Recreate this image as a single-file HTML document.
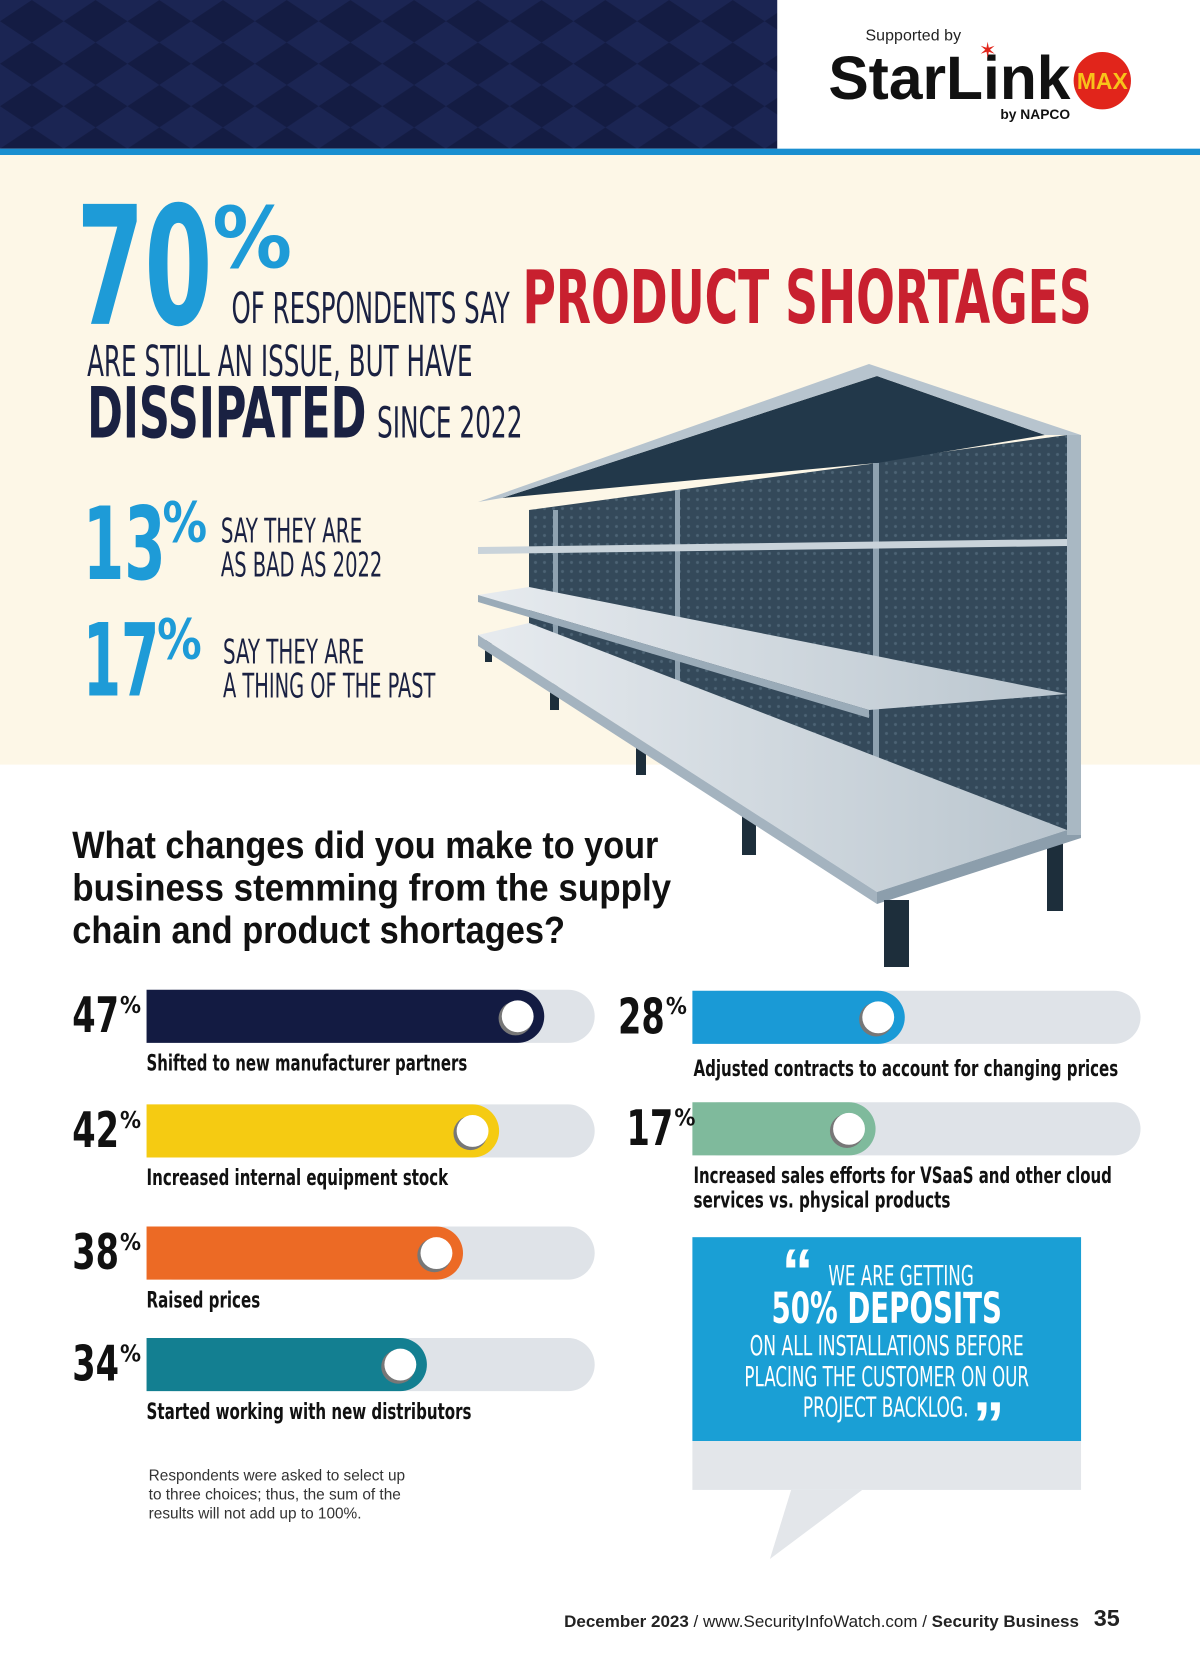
<!DOCTYPE html>
<html><head><meta charset="utf-8"><style>
html,body{margin:0;padding:0;background:#fff;width:1200px;height:1665px;overflow:hidden}
#wrap{position:absolute;left:0;top:0;width:1130px;height:1568px;transform:scale(1.06195);transform-origin:0 0}
svg text{font-family:"Liberation Sans Narrow","DejaVu Sans Condensed","Liberation Sans",sans-serif}
.sans{font-family:"Liberation Sans","DejaVu Sans",sans-serif}
</style></head><body>
<div id="wrap">
<svg id="main" width="1130" height="1568" viewBox="0 0 1130 1568" xmlns="http://www.w3.org/2000/svg">
<defs>
<pattern id="dia" width="60" height="40" patternUnits="userSpaceOnUse">
<rect width="60" height="40" fill="#1b2553"/>
<path d="M0 20 L30 0 L60 20 L30 40 Z" fill="#141c43"/>
</pattern>
<linearGradient id="deck" x1="0" y1="0" x2="1" y2="0"><stop offset="0" stop-color="#e7ebef"/><stop offset="1" stop-color="#b9c5ce"/></linearGradient>
<pattern id="peg" width="9" height="9" patternUnits="userSpaceOnUse"><rect width="9" height="9" fill="#34495a"/><circle cx="4.5" cy="4.5" r="1.5" fill="#4d6475"/></pattern>
</defs>
<rect x="0" y="0" width="732" height="140" fill="url(#dia)"/>
<rect x="732" y="0" width="398" height="140" fill="#fff"/>
<g>
<text x="815" y="38" font-size="15" fill="#222" class="sans" textLength="90">Supported by</text>
<text x="780" y="93" font-size="58" font-weight="bold" fill="#111" class="sans" textLength="228" lengthAdjust="spacingAndGlyphs">StarLink</text>
<circle cx="1038" cy="76" r="27" fill="#e1251b"/>
<text x="1038" y="84" font-size="22" font-weight="bold" fill="#f8c21a" text-anchor="middle" class="sans" textLength="48" lengthAdjust="spacingAndGlyphs">MAX</text>
<text x="930" y="54" font-size="20" fill="#e1251b" text-anchor="middle" class="sans">✶</text>
<text x="942" y="112" font-size="13" font-weight="bold" fill="#111" class="sans">by NAPCO</text>
</g>
<rect x="0" y="140" width="1130" height="6" fill="#1a8fd0"/>
<rect x="0" y="146" width="1130" height="574" fill="#fdf7e7"/>

<g>
<text x="72" y="305" font-size="155" font-weight="bold" fill="#1e9bd7" textLength="128" lengthAdjust="spacingAndGlyphs">70</text>
<text x="200" y="252" font-size="80" font-weight="bold" fill="#1e9bd7" textLength="75" lengthAdjust="spacingAndGlyphs">%</text>
<text x="218" y="304" font-size="40" fill="#1a2142" textLength="262" lengthAdjust="spacingAndGlyphs">OF RESPONDENTS SAY</text>
<text x="492" y="304" font-size="70" font-weight="bold" fill="#c8202f" textLength="536" lengthAdjust="spacingAndGlyphs">PRODUCT SHORTAGES</text>
<text x="82" y="354" font-size="40" fill="#1a2142" textLength="363" lengthAdjust="spacingAndGlyphs">ARE STILL AN ISSUE, BUT HAVE</text>
<text x="82" y="412" font-size="66" font-weight="bold" fill="#1a2142" textLength="263" lengthAdjust="spacingAndGlyphs">DISSIPATED</text>
<text x="355" y="412" font-size="40" fill="#1a2142" textLength="137" lengthAdjust="spacingAndGlyphs">SINCE 2022</text>
</g>
<g>
<text x="78" y="545" font-size="95" font-weight="bold" fill="#1e9bd7" textLength="78" lengthAdjust="spacingAndGlyphs">13</text>
<text x="153" y="510" font-size="52" font-weight="bold" fill="#1e9bd7" textLength="42" lengthAdjust="spacingAndGlyphs">%</text>
<text x="208" y="511" font-size="32" fill="#1a2142" textLength="133" lengthAdjust="spacingAndGlyphs">SAY THEY ARE</text>
<text x="208" y="543" font-size="32" fill="#1a2142" textLength="152" lengthAdjust="spacingAndGlyphs">AS BAD AS 2022</text>
</g>
<g>
<text x="78" y="655" font-size="95" font-weight="bold" fill="#1e9bd7" textLength="72" lengthAdjust="spacingAndGlyphs">17</text>
<text x="148" y="620" font-size="52" font-weight="bold" fill="#1e9bd7" textLength="42" lengthAdjust="spacingAndGlyphs">%</text>
<text x="210" y="625" font-size="32" fill="#1a2142" textLength="133" lengthAdjust="spacingAndGlyphs">SAY THEY ARE</text>
<text x="210" y="657" font-size="32" fill="#1a2142" textLength="200" lengthAdjust="spacingAndGlyphs">A THING OF THE PAST</text>
</g>

<g transform="scale(0.94167)">
<polygon points="877,461 1067,435 1067,830 877,830" fill="url(#peg)"/>
<polygon points="529,510 877,463 877,830 529,627" fill="url(#peg)"/>
<polygon points="502,498 877,376 1045,435 877,463" fill="#22384a"/>
<polygon points="478,502 869,364 1081,435 1045,435 877,376 502,498" fill="#b7c4ce"/>
<rect x="873" y="463" width="6" height="380" fill="#8fa2b0"/>
<rect x="675" y="490" width="5" height="250" fill="#8fa2b0"/>
<rect x="553" y="510" width="5" height="190" fill="#8fa2b0"/>
<polygon points="478,547 1067,539 1067,546 478,554" fill="#c9d3da"/>
<polygon points="529,587 1067,694 869,710 478,595" fill="url(#deck)"/>
<polygon points="478,595 869,710 869,718 478,602" fill="#9aabb8"/>
<rect x="485" y="640" width="7" height="22" fill="#1d2e3b"/>
<rect x="550" y="690" width="9" height="20" fill="#1d2e3b"/>
<rect x="636" y="745" width="10" height="30" fill="#1d2e3b"/>
<rect x="742" y="815" width="14" height="40" fill="#1d2e3b"/>
<rect x="1047" y="840" width="16" height="71" fill="#1d2e3b"/>
<polygon points="529,623 1067,830 877,892 478,635" fill="url(#deck)"/>
<polygon points="478,635 877,892 877,904 478,646" fill="#a4b3bf"/>
<polygon points="877,892 1067,830 1081,830 1081,838 877,904" fill="#8c9eac"/>
<rect x="884" y="900" width="25" height="67" fill="#1d2e3b"/>
<rect x="1067" y="435" width="14" height="400" fill="#a9b8c3"/>
</g>

<g>
<text x="68" y="808" font-size="36" font-weight="bold" fill="#111" class="sans" textLength="552" lengthAdjust="spacingAndGlyphs">What changes did you make to your</text>
<text x="68" y="848" font-size="36" font-weight="bold" fill="#111" class="sans" textLength="564" lengthAdjust="spacingAndGlyphs">business stemming from the supply</text>
<text x="68" y="888" font-size="36" font-weight="bold" fill="#111" class="sans" textLength="464" lengthAdjust="spacingAndGlyphs">chain and product shortages?</text>
</g>
<g id="bars"></g>

<g>
<rect x="652" y="1165" width="366" height="192" fill="#1a9fd5"/>
<rect x="652" y="1357" width="366" height="46" fill="#e3e6ea"/>
<polygon points="745,1403 812,1403 725,1468" fill="#e3e6ea"/>
<text x="736" y="1218" font-size="60" font-weight="bold" fill="#fff" class="sans">“</text>
<text x="780" y="1210" font-size="26" fill="#fff" textLength="137" lengthAdjust="spacingAndGlyphs">WE ARE GETTING</text>
<text x="835" y="1246" font-size="40" font-weight="bold" fill="#fff" text-anchor="middle" textLength="217" lengthAdjust="spacingAndGlyphs">50% DEPOSITS</text>
<text x="835" y="1276" font-size="26" fill="#fff" text-anchor="middle" textLength="258" lengthAdjust="spacingAndGlyphs">ON ALL INSTALLATIONS BEFORE</text>
<text x="835" y="1305" font-size="26" fill="#fff" text-anchor="middle" textLength="268" lengthAdjust="spacingAndGlyphs">PLACING THE CUSTOMER ON OUR</text>
<text x="756" y="1334" font-size="26" fill="#fff" textLength="156" lengthAdjust="spacingAndGlyphs">PROJECT BACKLOG.</text>
<text x="916" y="1362" font-size="60" font-weight="bold" fill="#fff" class="sans">”</text>
</g>

<g class="sans">
<text x="140" y="1394" font-size="14.5" fill="#333" class="sans">Respondents were asked to select up</text>
<text x="140" y="1412" font-size="14.5" fill="#333" class="sans">to three choices; thus, the sum of the</text>
<text x="140" y="1430" font-size="14.5" fill="#333" class="sans">results will not add up to 100%.</text>
</g>
<g>
<text x="1016" y="1532" font-size="16" fill="#222" text-anchor="end" class="sans"><tspan font-weight="bold">December 2023</tspan> / www.SecurityInfoWatch.com / <tspan font-weight="bold">Security Business</tspan></text>
<text x="1030" y="1531" font-size="22" font-weight="bold" fill="#222" class="sans">35</text>
</g>
</svg>
</div>
<script>
const categories = ["Shifted to new manufacturer partners","Increased internal equipment stock","Raised prices","Started working with new distributors","Adjusted contracts to account for changing prices","Increased sales efforts for VSaaS and other cloud|services vs. physical products"];
const values = [47, 42, 38, 34, 28, 17];
const barColors = ["#131b42","#f5cb12","#ec6a25","#137f91","#1a9ad6","#7fba9c"];
const NS = "http://www.w3.org/2000/svg";
const g = document.getElementById("bars");
const layout = [
 {x:138,y:932,lx:68,col:0,lw:[302]},{x:138,y:1040,lx:68,col:0,lw:[284]},{x:138,y:1155,lx:68,col:0,lw:[107]},{x:138,y:1260,lx:68,col:0,lw:[306]},
 {x:652,y:933,lx:582,col:1,lw:[400]},{x:652,y:1038,lx:590,col:1,lw:[394,242]}];
const TRACK_W = 422, H = 50;
function xScale(v, col){ return col === 0 ? (-25 + v * 8.5) : (130 + v * 2.5); }
function mk(tag, attrs){ const e=document.createElementNS(NS,tag); for(const k in attrs) e.setAttribute(k,attrs[k]); g.appendChild(e); return e; }
values.forEach((v,i)=>{
  const L = layout[i];
  const tr = mk("rect",{x:L.x,y:L.y,width:TRACK_W,height:H,rx:25,fill:"#dfe3e8"});
  
  
  const w = Math.max(50, Math.min(TRACK_W, xScale(v, L.col)));
  const f = mk("path",{d:`M${L.x} ${L.y} H${L.x+w-25} A25 25 0 0 1 ${L.x+w-25} ${L.y+H} H${L.x} Z`,fill:barColors[i]});
  
  
  const sh = mk("circle",{cx:L.x+w-27,cy:L.y+27,r:16,fill:"#777"});
  
  
  const k = mk("circle",{cx:L.x+w-25,cy:L.y+25,r:15,fill:"#fff"});
  
  
  const t = mk("text",{x:L.lx,y:L.y+40,"font-size":46,"font-weight":"bold",fill:"#111",textLength:44,lengthAdjust:"spacingAndGlyphs"});
  t.textContent = String(v);
  
  
  const p = mk("text",{x:L.lx+45,y:L.y+22,"font-size":22,"font-weight":"bold",fill:"#111"});
  p.textContent = "%";
  
  
  const lines = categories[i].split("|");
  lines.forEach((ln,j)=>{
    const lb = mk("text",{x:L.x+(i>=4?1:0),y:L.y+H+26+(i==4?4:0)+j*23,"font-size":21,"font-weight":"bold",fill:"#111",textLength:L.lw[j]||300,lengthAdjust:"spacingAndGlyphs"});
    lb.textContent = ln;
    
    
  });
});
</script>
</body></html>
